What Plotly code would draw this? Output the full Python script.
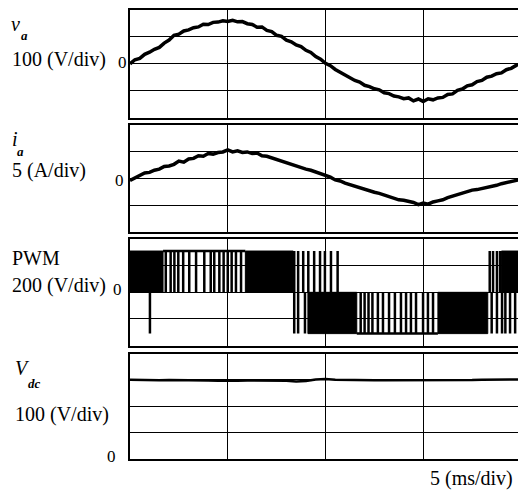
import numpy as np
import plotly.graph_objects as go

# ---------------- data ----------------
# time span of the record: 4 divisions x 5 ms/div
t_span_ms = [0, 20]

# phase voltage v_a (V), sampled every 0.25 ms
va_values = [0, 15, 20, 35, 43, 54, 61, 77, 88, 106,
             110, 122, 126, 134, 137, 147, 146, 154, 155, 160,
             157, 162, 156, 157, 149, 146, 136, 137, 124, 120,
             106, 102, 88, 82, 70, 64, 50, 42, 27, 17,
             2, -7, -21, -31, -43, -50, -62, -68, -80, -85,
             -93, -97, -108, -111, -120, -123, -130, -127, -138, -131,
             -140, -130, -134, -127, -125, -114, -112, -99, -94, -82,
             -78, -66, -62, -50, -46, -37, -34, -22, -17, -6,
             0]

# phase current i_a (A), sampled every 0.25 ms
ia_values = [-0.4, 0.1, 0.5, 1.0, 1.1, 1.5, 1.7, 2.2, 2.3, 2.6,
             3.2, 3.0, 3.6, 3.7, 4.2, 4.1, 4.6, 4.5, 4.8, 4.9,
             5.3, 4.9, 5.1, 4.8, 4.9, 4.6, 4.7, 4.2, 4.1, 3.8,
             3.4, 3.2, 2.8, 2.6, 2.2, 2.0, 1.7, 1.5, 1.2, 0.9,
             0.5, 0.2, -0.3, -0.5, -0.9, -1.2, -1.4, -1.8, -2.1, -2.4,
             -2.6, -2.8, -3.1, -3.4, -3.6, -4.0, -4.1, -4.3, -4.5, -4.9,
             -4.6, -4.8, -4.4, -4.2, -4.0, -3.6, -3.3, -3.0, -2.7, -2.5,
             -2.2, -2.1, -1.9, -1.8, -1.5, -1.3, -1.0, -0.8, -0.6, -0.4,
             -0.2]

# dc-link voltage V_dc (V), sampled every 0.5 ms
vdc_values = [301, 300, 300, 299, 300, 300, 299, 298, 298, 297,
              296, 297, 298, 298, 298, 299, 297, 294, 296, 302,
              304, 301, 300, 300, 300, 299, 299, 299, 299, 298,
              298, 299, 299, 300, 300, 300, 301, 301, 301, 302,
              302]

# PWM output voltage: switching level (V)
pwm_level = 310
# intervals (ms) where switching is too dense to resolve (solid black)
pwm_dense_start = [0.0, 5.9, 9.1, 15.75, 19.0]
pwm_dense_end = [1.69, 8.35, 11.6, 18.3, 20.0]
pwm_dense_sign = [1, 1, -1, -1, 1]
# intervals (ms) where the output rests at +/- level between notches
pwm_hold_start = [1.69, 11.6]
pwm_hold_end = [5.9, 15.75]
pwm_hold_sign = [1, -1]
# individual resolvable pulses (ms)
pwm_pos_pulses = [1.83, 2.08, 2.27, 2.47, 2.72, 3.03, 3.38, 3.8, 4.13, 4.31,
                  4.57, 4.79, 5.0, 5.2, 5.42, 5.68,
                  8.4, 8.6, 8.86, 9.12, 9.42, 9.72, 9.97, 10.28, 10.62,
                  18.4, 18.57, 18.77, 18.93]
pwm_neg_pulses = [1.02, 8.4, 8.6, 8.95,
                  11.8, 12.0, 12.2, 12.4, 12.68, 12.94, 13.25, 13.55, 13.86,
                  14.12, 14.37, 14.63, 14.99, 15.24, 15.5,
                  18.5, 18.77, 19.03, 19.2, 19.44, 19.7]

# axis ranges (4 divisions each)
y_ranges = [[-200, 200], [-10, 10], [-400, 400], [0, 400]]
y_dticks = [100, 5, 200, 100]

# ---------------- figure ----------------
# the page body has an 8 px margin, so the figure is laid out 8 px in
OFF = 8
W, H = 526 - OFF, 491 - OFF

def px(x):
    return (x - OFF) / W

def py(y):
    return 1 - (y - OFF) / H

x_dom = [px(130), px(521)]
panel_px = [(8, 116), (123, 231), (238, 345), (353, 459)]

fig = go.Figure()

def t_of(vals):
    return np.linspace(t_span_ms[0], t_span_ms[1], len(vals))

line_style = dict(color="black", width=3.5)
fig.add_trace(go.Scatter(x=t_of(va_values), y=va_values, mode="lines",
                         line=line_style, xaxis="x", yaxis="y", showlegend=False))
fig.add_trace(go.Scatter(x=t_of(ia_values), y=ia_values, mode="lines",
                         line=line_style, xaxis="x2", yaxis="y2", showlegend=False))

# PWM dense blocks
for a, b, s in zip(pwm_dense_start, pwm_dense_end, pwm_dense_sign):
    lv = s * pwm_level
    fig.add_trace(go.Scatter(x=[a, a, b, b, a], y=[0, lv, lv, 0, 0], mode="lines",
                             fill="toself", fillcolor="black",
                             line=dict(color="black", width=1),
                             xaxis="x3", yaxis="y3", showlegend=False))
# PWM hold levels
for a, b, s in zip(pwm_hold_start, pwm_hold_end, pwm_hold_sign):
    lv = s * pwm_level
    fig.add_trace(go.Scatter(x=[a, b], y=[lv, lv], mode="lines",
                             line=dict(color="black", width=2.5),
                             xaxis="x3", yaxis="y3", showlegend=False))
# PWM individual pulses
for pulses, s in ((pwm_pos_pulses, 1), (pwm_neg_pulses, -1)):
    xs, ys = [], []
    for p in pulses:
        xs += [p, p, None]
        ys += [0, s * pwm_level, None]
    fig.add_trace(go.Scatter(x=xs, y=ys, mode="lines",
                             line=dict(color="black", width=2.5),
                             xaxis="x3", yaxis="y3", showlegend=False))

fig.add_trace(go.Scatter(x=t_of(vdc_values), y=vdc_values, mode="lines",
                         line=dict(color="black", width=2.5),
                         xaxis="x4", yaxis="y4", showlegend=False))

layout = dict(width=W, height=H, margin=dict(l=0, r=0, t=0, b=0),
              paper_bgcolor="white", plot_bgcolor="white", showlegend=False)
for i, ((top, bot), yr, dt) in enumerate(zip(panel_px, y_ranges, y_dticks), start=1):
    sfx = "" if i == 1 else str(i)
    layout["xaxis" + sfx] = dict(domain=x_dom, range=t_span_ms, tick0=0, dtick=5,
                                 showgrid=True, gridcolor="black", gridwidth=1,
                                 showline=True, mirror=True, linecolor="black", linewidth=2,
                                 showticklabels=False, ticks="", zeroline=False,
                                 anchor="y" + sfx, fixedrange=True)
    layout["yaxis" + sfx] = dict(domain=[py(bot), py(top)], range=yr, tick0=0, dtick=dt,
                                 showgrid=True, gridcolor="black", gridwidth=1,
                                 showline=True, mirror=True, linecolor="black", linewidth=2,
                                 showticklabels=False, ticks="", zeroline=False,
                                 anchor="x" + sfx, fixedrange=True)
fig.update_layout(**layout)

FONT = "Liberation Serif"

def label(text, x, y, size=20, anchor="left"):
    fig.add_annotation(text=text, x=px(x), y=py(y), xref="paper", yref="paper",
                       xanchor=anchor, yanchor="middle", showarrow=False,
                       font=dict(family=FONT, size=size, color="black"))

label("<i>v</i>", 9, 22)
label("<i><b>a</b></i>", 19, 34, size=13)
label("100 (V/div)", 10, 58)
label("0", 129, 61, size=17, anchor="right")

label("<i>i</i>", 10, 138)
label("<i><b>a</b></i>", 15, 150, size=13)
label("5 (A/div)", 10, 169)
label("0", 126, 179, size=17, anchor="right")

label("PWM", 10, 257)
label("200 (V/div)", 10, 285)
label("0", 124, 289, size=17, anchor="right")

label("<i>V</i>", 13, 367)
label("<i><b>dc</b></i>", 26, 383, size=13)
label("100 (V/div)", 13, 414)
label("0", 118, 456, size=17, anchor="right")

label("5 (ms/div)", 515, 478, anchor="right")

fig.write_html("out.html")
